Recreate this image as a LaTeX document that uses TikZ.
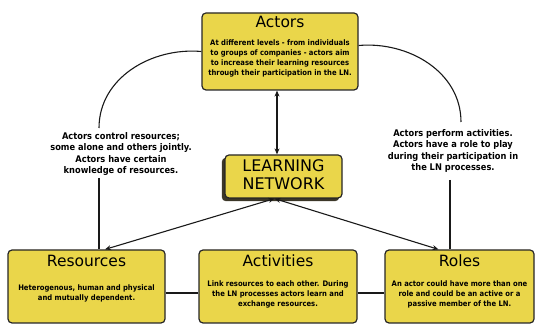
\documentclass[tikz,border=0pt]{standalone}
\usepackage{fontspec}
\setmainfont{DejaVu Sans}
\newfontfamily\bodyfont{DejaVu Sans Condensed Bold}
\usetikzlibrary{arrows.meta}
\definecolor{boxyellow}{RGB}{234,214,74}
\definecolor{shadowgray}{RGB}{60,55,40}
\begin{document}
\begin{tikzpicture}[x=1pt, y=1pt,
    box/.style={draw=black!85, line width=1.2pt, rounded corners=4pt, fill=boxyellow, inner sep=0pt},
    boxtitle/.style={font=\fontsize{15.5}{16}\selectfont, inner sep=0pt, anchor=base},
    boxtext/.style={font=\bodyfont\fontsize{7.6}{10}\selectfont, align=center, inner sep=0pt},
    sidetext/.style={font=\bodyfont\fontsize{9.2}{11.5}\selectfont, align=center, inner sep=0pt},
    link/.style={line width=1.1pt, black!90},
    arr/.style={link, {Stealth[length=6pt,width=5pt]}-{Stealth[length=6pt,width=5pt]}}]
    \useasboundingbox (0,0) rectangle (538,326);

    \node[box, minimum width=156pt, minimum height=77pt] (actors) at (280,274.5) {};
    \node[boxtitle] (actorstitle) at (280,298) {Actors};
    \node[boxtext] (actorstext) at (280,268) {At different levels - from individuals\\to groups of companies - actors aim\\to increase their learning resources\\through their participation in the LN.};

    \filldraw[draw=shadowgray, fill=shadowgray, rounded corners=4pt] (222,125) rectangle (339,168);
    \node[box, minimum width=117pt, minimum height=43pt] (ln) at (283.5,149.5) {};
    \node[font=\fontsize{16}{18}\selectfont, align=center, inner sep=0pt] (lntext) at (283.5,151) {LEARNING\\NETWORK};

    \node[box, minimum width=157pt, minimum height=73pt] (res) at (86.5,39.5) {};
    \node[boxtitle] (restitle) at (86.5,59) {Resources};
    \node[boxtext] (restext) at (86.5,33) {Heterogenous, human and physical\\and mutually dependent.};

    \node[box, minimum width=158pt, minimum height=73pt] (act) at (278,39.5) {};
    \node[boxtitle] (acttitle) at (278,59) {Activities};
    \node[boxtext] (acttext) at (278,32) {Link resources to each other. During\\the LN processes actors learn and\\exchange resources.};

    \node[box, minimum width=149pt, minimum height=73pt] (roles) at (459.5,39.5) {};
    \node[boxtitle] (rolestitle) at (459.5,59) {Roles};
    \node[boxtext] (rolestext) at (459.5,32) {An actor could have more than one\\role and could be an active or a\\passive member of the LN.};

    \node[sidetext] (lres) at (121,172) {Actors control resources;\\some alone and others jointly.\\Actors have certain\\knowledge of resources.};
    \node[sidetext] (lroles) at (453,175) {Actors perform activities.\\Actors have a role to play\\during their participation in\\the LN processes.};

    \coordinate (lup) at (99,198);
    \coordinate (ldn) at (99,148);
    \coordinate (rup) at (461,204);
    \coordinate (rdn) at (450,146);

    \draw[link] (actors.west) to[out=175, in=90] (lup);
    \draw[link] (ldn) -- (ldn |- res.north);
    \draw[link] ([yshift=6pt]actors.east) to[out=5, in=90] (rup);
    \draw[link] (rdn) -- (rdn |- roles.north);

    \draw[arr] ([xshift=-3pt]actors.south) -- ([xshift=-3pt]actors.south |- ln.north);
    \draw[arr] ([xshift=-9pt]ln.south) -- ([xshift=18.5pt]res.north);
    \draw[arr] ([xshift=-9pt]ln.south) -- ([xshift=-21pt]roles.north);

    \draw[link] ([yshift=-6.5pt]res.east) -- ([yshift=-6.5pt]act.west);
    \draw[link] ([yshift=-6.5pt]act.east) -- ([yshift=-6.5pt]roles.west);
\end{tikzpicture}
\end{document}
